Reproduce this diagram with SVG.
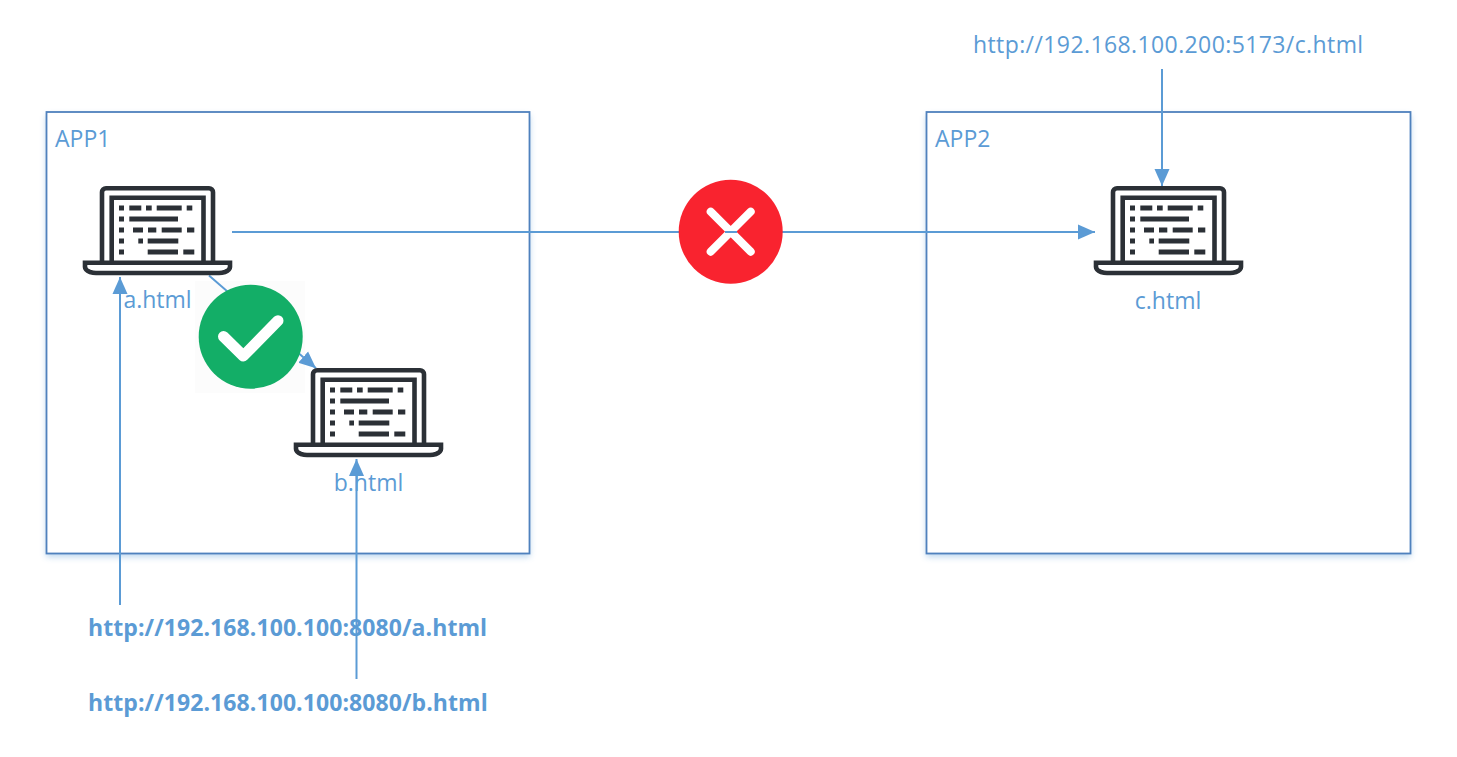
<svg xmlns="http://www.w3.org/2000/svg" xmlns:xlink="http://www.w3.org/1999/xlink" width="1457" height="757" viewBox="0 0 1457 757">
<style>
.box{fill:#fff;stroke:#4f81bd;stroke-width:1.8}
.shadow{fill:#5b9bd5;opacity:.4}
.t{font-family:"Open Sans","Liberation Sans",sans-serif;font-size:23px;fill:#5b9bd5}
.u{letter-spacing:.4px}
.b{font-weight:700;letter-spacing:.08px}
.m{text-anchor:middle}
.c{fill:none;stroke:#5b9bd5;stroke-width:2}
.ls{fill:none;stroke:#2b3036;stroke-width:4.600}
.d{fill:#2b3036}
</style>
<defs>
<filter id="blur" x="-5%" y="-5%" width="110%" height="110%"><feGaussianBlur stdDeviation="3"/></filter>
<marker id="arrow" markerUnits="userSpaceOnUse" markerWidth="18" markerHeight="16" refX="17" refY="8" orient="auto"><path d="M0,0.500L17,8L0,15.500Z" fill="#5b9bd5"/></marker>
<symbol id="laptop" width="149" height="90" viewBox="0 0 149 90" overflow="visible">
<path class="ls" d="M19,76V6.300a4,4 0 0 1 4,-4H126a4,4 0 0 1 4,4V76"/>
<path class="ls" d="M28.700,76V11.700H120.500V76"/>
<path class="ls" d="M2,76.700H147V81Q147,84 142,86Q139,87 136,87H13Q10,87 7,86Q2,84 2,81Z"/>
<path class="d" d="M36,19.400h5v5h-5zM46.300,19.400h12v5h-12zM63,19.400h5.700v5h-5.700zM73.700,19.400h25v5h-25zM103.700,19.400h5.600v5h-5.600zM36,30.400h5v5h-5zM46.300,30.400h48.700v5h-48.700zM36,41.400h5v5h-5zM50,41.400h10v5h-10zM65,41.400h8.300v5h-8.300zM78.700,41.400h20v5h-20zM104,41.400h7.300v5h-7.300zM36,52.400h5v5h-5zM55.300,52.400h4.700v5h-4.700zM64.700,52.400h30.600v5h-30.600zM36,63.400h5v5h-5zM64.700,63.400h30.300v5h-30.300zM100.300,63.400h11v5h-11z"/>
</symbol>
</defs>
<g id="app1">
<rect class="shadow" x="46" y="115" width="484" height="442" filter="url(#blur)"/>
<rect class="box" x="46.500" y="112" width="483" height="441.500"/>
<text class="t" x="55" y="147">APP1</text>
</g>
<g id="app2">
<rect class="shadow" x="926" y="115" width="485" height="442" filter="url(#blur)"/>
<rect class="box" x="926.500" y="112" width="484" height="441.500"/>
<text class="t" x="935" y="147">APP2</text>
</g>
<rect x="195" y="281" width="110" height="112" fill="#fcfcfc"/>
<g id="connectors">
<path class="c" d="M232,232H1095" marker-end="url(#arrow)"/>
<path class="c" d="M209,275.500L316,368.300" marker-end="url(#arrow)"/>
<path class="c" d="M120,605V277" marker-end="url(#arrow)"/>
<path class="c" d="M356.500,679V459" marker-end="url(#arrow)"/>
<path class="c" d="M1162,69V186" marker-end="url(#arrow)"/>
</g>
<g id="a-html"><use xlink:href="#laptop" href="#laptop" x="83" y="186"/><text class="t m" x="157.500" y="308">a.html</text></g>
<g id="b-html"><use xlink:href="#laptop" href="#laptop" x="294" y="368"/><text class="t m" x="368.500" y="491">b.html</text></g>
<g id="c-html"><use xlink:href="#laptop" href="#laptop" x="1094" y="186"/><text class="t m" x="1168" y="309">c.html</text></g>
<g id="ok">
<circle cx="250.700" cy="336.700" r="52" fill="#13ae67"/>
<path d="M223.500,336.500L243.300,356L278,320.700" fill="none" stroke="#fff" stroke-width="11" stroke-linecap="round" stroke-linejoin="round"/>
</g>
<g id="fail">
<circle cx="730.700" cy="231.700" r="52" fill="#f9232f"/>
<path d="M710.700,211.700L750.700,251.700M750.700,211.700L710.700,251.700" fill="none" stroke="#fff" stroke-width="8" stroke-linecap="round"/>
<path d="M725,232H737" stroke="#5b9bd5" stroke-width="2" fill="none"/>
</g>
<g id="urls">
<text class="t b" x="88" y="636">http://192.168.100.100:8080/a.html</text>
<text class="t b" x="88" y="711">http://192.168.100.100:8080/b.html</text>
<text class="t u" x="973" y="53">http://192.168.100.200:5173/c.html</text>
</g>
</svg>
